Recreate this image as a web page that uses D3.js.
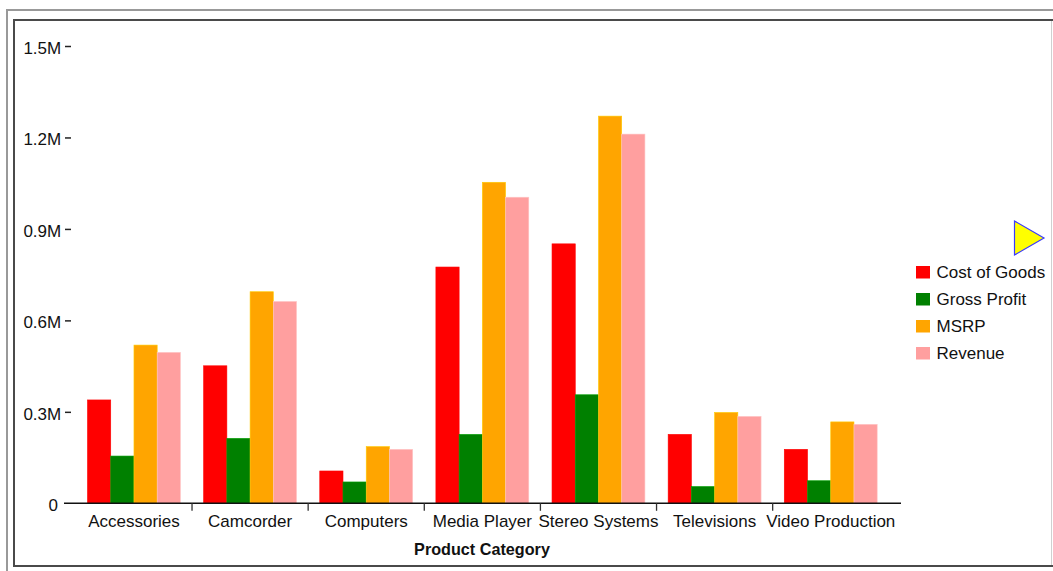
<!DOCTYPE html>
<html>
<head>
<meta charset="utf-8">
<script src="https://cdn.jsdelivr.net/npm/d3@7"></script>
<style>
  body { margin: 0; background: #fff; }
  svg { display: block; font-family: "Liberation Sans", Arial, sans-serif; }
</style>
</head>
<body>
<svg id="chart" width="1053" height="571"></svg>
<script>
const categories = ["Accessories", "Camcorder", "Computers", "Media Player", "Stereo Systems", "Televisions", "Video Production"];
const seriesNames = ["Cost of Goods", "Gross Profit", "MSRP", "Revenue"];
const costOfGoods = [339000, 451000, 106000, 775000, 851000, 226000, 177000];
const grossProfit = [155000, 213000, 70000, 226000, 356000, 55000, 74000];
const msrp = [519000, 694000, 186000, 1053000, 1270000, 298000, 267000];
const revenue = [495000, 662000, 177000, 1004000, 1211000, 285000, 259000];
const seriesColors = ["#ff0000", "#008000", "#ffa500", "#ff9f9f"];
const yTickValues = [0, 300000, 600000, 900000, 1200000, 1500000];
const yTickLabels = ["0", "0.3M", "0.6M", "0.9M", "1.2M", "1.5M"];
const xTitle = "Product Category";

const seriesValues = [costOfGoods, grossProfit, msrp, revenue];
const svg = d3.select("#chart");

// frame
svg.append("path").attr("d", "M7,580 L7,10 L1060,10").attr("fill", "none").attr("stroke", "#999").attr("stroke-width", 2);
svg.append("path").attr("d", "M14,566 L14,20 L1060,20").attr("fill", "none").attr("stroke", "#4a4a4a").attr("stroke-width", 2);
svg.append("line").attr("x1", 13).attr("x2", 1053).attr("y1", 566).attr("y2", 566).attr("stroke", "#4a4a4a").attr("stroke-width", 2);
svg.append("line").attr("x1", 1051.5).attr("x2", 1051.5).attr("y1", 21).attr("y2", 565).attr("stroke", "#d0d0d0").attr("stroke-width", 1);

const y = d3.scaleLinear().domain([0, 1500000]).range([503.3, 46]);
const x = d3.scaleBand().domain(categories).range([75.9, 888.8]).padding(0);
const bw = x.bandwidth();
const x1 = d3.scaleBand().domain(seriesNames).range([bw * 0.1, bw * 0.9]).padding(0);

// bars
const groups = svg.append("g").selectAll("g").data(categories).join("g")
  .attr("transform", d => `translate(${x(d)},0)`);
groups.selectAll("rect")
  .data((d, i) => seriesNames.map((s, j) => ({ s, j, v: seriesValues[j][i] })))
  .join("rect")
  .attr("x", d => x1(d.s))
  .attr("y", d => y(d.v))
  .attr("width", x1.bandwidth())
  .attr("height", d => y(0) - y(d.v))
  .attr("fill", d => seriesColors[d.j])
  .attr("stroke", d => d3.color(seriesColors[d.j]).brighter(0.6))
  .attr("stroke-width", 0.6);

// y axis (ticks to the right of labels, no domain line)
const yAxis = d3.axisLeft(y).tickValues(yTickValues)
  .tickFormat((d, i) => yTickLabels[i]).tickSize(8).tickPadding(1.8);
const yg = svg.append("g").attr("transform", "translate(71,0)").call(yAxis);
yg.select(".domain").remove();
yg.selectAll(".tick line").attr("stroke", "#222").attr("stroke-width", 1.5)
  .attr("x1", -6).attr("x2", 0);
yg.selectAll(".tick text").attr("font-size", 17).attr("fill", "#111")
  .attr("font-family", "Liberation Sans, Arial, sans-serif")
  .attr("y", 2);
yg.selectAll(".tick").filter(d => d === 0).select("line").remove();
yg.selectAll(".tick").filter(d => d === 0).select("text").attr("x", -13);

// x axis
const xAxis = d3.axisBottom(x).tickSize(0).tickPadding(0);
const xg = svg.append("g").attr("transform", `translate(0,${y(0)})`).call(xAxis);
xg.select(".domain").remove();
xg.selectAll(".tick text").attr("font-size", 17).attr("fill", "#111")
  .attr("font-family", "Liberation Sans, Arial, sans-serif")
  .attr("dy", null).attr("y", 24);
svg.append("line").attr("x1", 64).attr("x2", 901).attr("y1", y(0)).attr("y2", y(0))
  .attr("stroke", "#111").attr("stroke-width", 1.6);
svg.append("g").selectAll("line").data(categories.slice(1)).join("line")
  .attr("x1", d => x(d)).attr("x2", d => x(d))
  .attr("y1", y(0)).attr("y2", y(0) + 7.5)
  .attr("stroke", "#333").attr("stroke-width", 1.3);

svg.append("text").attr("x", 482).attr("y", 555).attr("text-anchor", "middle")
  .attr("font-size", 16.2).attr("font-weight", "bold").attr("fill", "#111").text(xTitle);

// legend
const lg = svg.append("g");
const rows = lg.selectAll("g").data(seriesNames).join("g")
  .attr("transform", (d, i) => `translate(916,${266 + i * 27})`);
rows.append("rect").attr("width", 14).attr("height", 12.5)
  .attr("fill", (d, i) => seriesColors[i]);
rows.append("text").attr("x", 20.5).attr("y", 12).attr("font-size", 17)
  .attr("fill", "#111").text(d => d);

// triangle marker
svg.append("path").attr("d", "M1014.5,221 L1014.5,255 L1044,238 Z")
  .attr("fill", "#ffff00").attr("stroke", "#3a3aff").attr("stroke-width", 1.2);
</script>
</body>
</html>
